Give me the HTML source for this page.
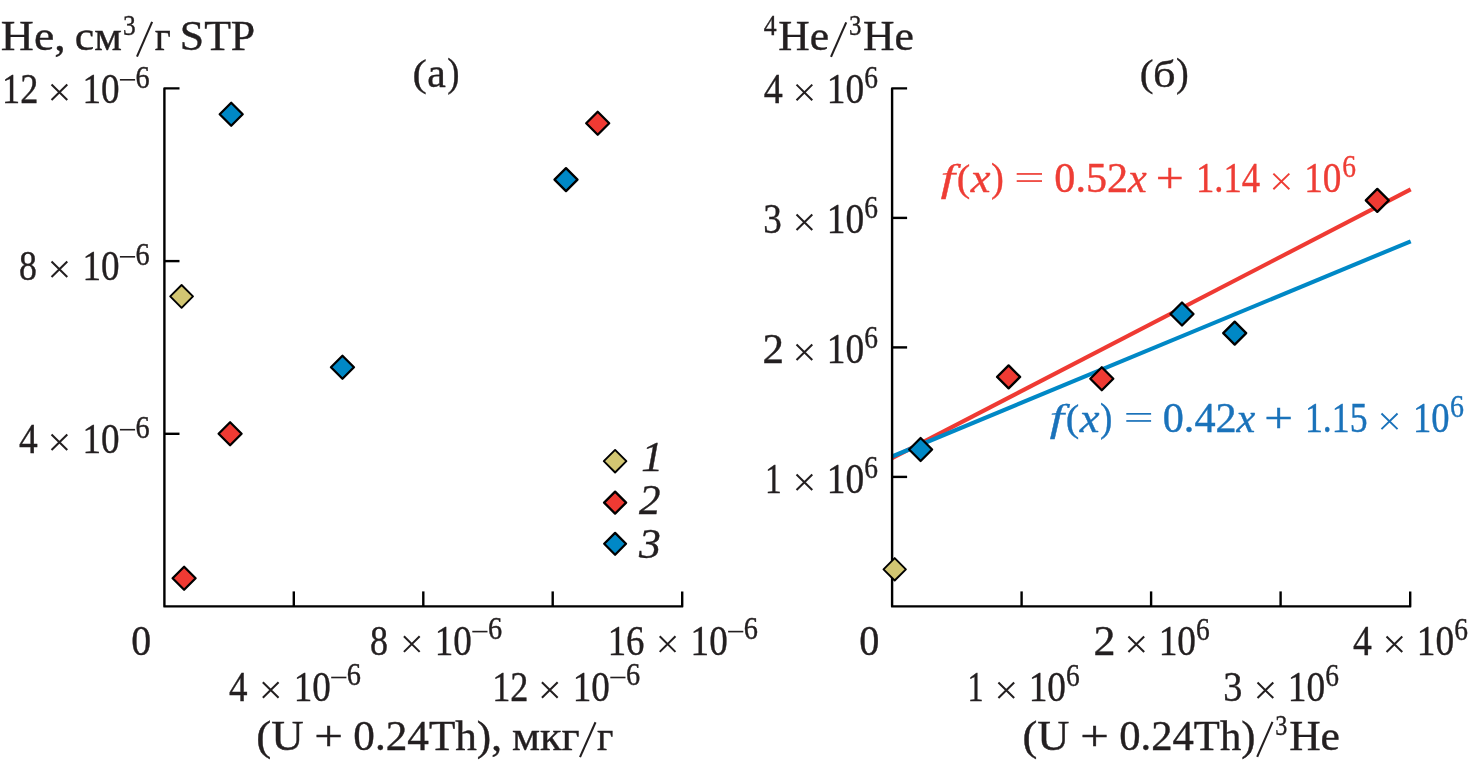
<!DOCTYPE html>
<html><head><meta charset="utf-8"><style>
html,body{margin:0;padding:0;background:#fff;width:1469px;height:763px;overflow:hidden}
svg{display:block;font-family:"Liberation Serif",serif;will-change:transform}
</style></head><body>
<svg width="1469" height="763" viewBox="0 0 1469 763">
<rect width="1469" height="763" fill="#fff"/>
<line x1="892.1" y1="458.1" x2="1410.7" y2="189.4" stroke="#ef3a33" stroke-width="4.1"/>
<line x1="892.1" y1="456.5" x2="1410.7" y2="241.3" stroke="#0088c6" stroke-width="4.1"/>
<path d="M179.5 88.4H164.4V606.4H682.2V591.4" stroke="#000" stroke-width="2.4" fill="none" stroke-linejoin="round" stroke-linecap="butt"/>
<path d="M164.4 261.1H179.5" stroke="#000" stroke-width="2.4" fill="none" stroke-linejoin="round" stroke-linecap="butt"/>
<path d="M164.4 433.8H179.5" stroke="#000" stroke-width="2.4" fill="none" stroke-linejoin="round" stroke-linecap="butt"/>
<path d="M293.8 606.4V591.4" stroke="#000" stroke-width="2.4" fill="none" stroke-linejoin="round" stroke-linecap="butt"/>
<path d="M423.3 606.4V591.4" stroke="#000" stroke-width="2.4" fill="none" stroke-linejoin="round" stroke-linecap="butt"/>
<path d="M552.7 606.4V591.4" stroke="#000" stroke-width="2.4" fill="none" stroke-linejoin="round" stroke-linecap="butt"/>
<path d="M907.1 88.4H892.1V606.4H1410.2V591.4" stroke="#000" stroke-width="2.4" fill="none" stroke-linejoin="round" stroke-linecap="butt"/>
<path d="M892.1 217.9H907.1" stroke="#000" stroke-width="2.4" fill="none" stroke-linejoin="round" stroke-linecap="butt"/>
<path d="M892.1 347.4H907.1" stroke="#000" stroke-width="2.4" fill="none" stroke-linejoin="round" stroke-linecap="butt"/>
<path d="M892.1 476.9H907.1" stroke="#000" stroke-width="2.4" fill="none" stroke-linejoin="round" stroke-linecap="butt"/>
<path d="M1021.6 606.4V591.4" stroke="#000" stroke-width="2.4" fill="none" stroke-linejoin="round" stroke-linecap="butt"/>
<path d="M1151.1 606.4V591.4" stroke="#000" stroke-width="2.4" fill="none" stroke-linejoin="round" stroke-linecap="butt"/>
<path d="M1280.6 606.4V591.4" stroke="#000" stroke-width="2.4" fill="none" stroke-linejoin="round" stroke-linecap="butt"/>
<path d="M219.70 114.30L231.20 102.80L242.70 114.30L231.20 125.80Z" fill="#0088c6" stroke="#000" stroke-width="2.3" stroke-linejoin="round"/>
<path d="M586.20 123.30L597.70 111.80L609.20 123.30L597.70 134.80Z" fill="#ef3a33" stroke="#000" stroke-width="2.3" stroke-linejoin="round"/>
<path d="M554.50 179.60L566.00 168.10L577.50 179.60L566.00 191.10Z" fill="#0088c6" stroke="#000" stroke-width="2.3" stroke-linejoin="round"/>
<path d="M170.20 296.40L181.60 285.00L193.00 296.40L181.60 307.80Z" fill="#d2c672" stroke="#000" stroke-width="1.9" stroke-linejoin="round"/>
<path d="M330.95 367.25L342.45 355.75L353.95 367.25L342.45 378.75Z" fill="#0088c6" stroke="#000" stroke-width="2.3" stroke-linejoin="round"/>
<path d="M218.60 433.80L230.10 422.30L241.60 433.80L230.10 445.30Z" fill="#ef3a33" stroke="#000" stroke-width="2.3" stroke-linejoin="round"/>
<path d="M172.60 578.30L184.10 566.80L195.60 578.30L184.10 589.80Z" fill="#ef3a33" stroke="#000" stroke-width="2.3" stroke-linejoin="round"/>
<path d="M603.80 461.20L615.10 449.90L626.40 461.20L615.10 472.50Z" fill="#d2c672" stroke="#000" stroke-width="1.9" stroke-linejoin="round"/>
<path d="M604.10 502.60L615.10 491.60L626.10 502.60L615.10 513.60Z" fill="#ef3a33" stroke="#000" stroke-width="2.3" stroke-linejoin="round"/>
<path d="M604.20 543.80L615.10 532.90L626.00 543.80L615.10 554.70Z" fill="#0088c6" stroke="#000" stroke-width="2.3" stroke-linejoin="round"/>
<path d="M1365.80 200.40L1377.30 188.90L1388.80 200.40L1377.30 211.90Z" fill="#ef3a33" stroke="#000" stroke-width="2.3" stroke-linejoin="round"/>
<path d="M1170.50 314.00L1182.00 302.50L1193.50 314.00L1182.00 325.50Z" fill="#0088c6" stroke="#000" stroke-width="2.3" stroke-linejoin="round"/>
<path d="M1223.20 333.10L1234.70 321.60L1246.20 333.10L1234.70 344.60Z" fill="#0088c6" stroke="#000" stroke-width="2.3" stroke-linejoin="round"/>
<path d="M997.10 376.90L1008.60 365.40L1020.10 376.90L1008.60 388.40Z" fill="#ef3a33" stroke="#000" stroke-width="2.3" stroke-linejoin="round"/>
<path d="M1090.30 378.80L1101.80 367.30L1113.30 378.80L1101.80 390.30Z" fill="#ef3a33" stroke="#000" stroke-width="2.3" stroke-linejoin="round"/>
<path d="M909.10 449.50L920.60 438.00L932.10 449.50L920.60 461.00Z" fill="#0088c6" stroke="#000" stroke-width="2.3" stroke-linejoin="round"/>
<path d="M883.50 569.30L894.70 558.10L905.90 569.30L894.70 580.50Z" fill="#d2c672" stroke="#000" stroke-width="1.9" stroke-linejoin="round"/>
<text x="0" y="0" font-size="42.5" fill="#231f20" stroke="#231f20" stroke-width="0.4" transform="matrix(1.0763 0 0 1.0000 0.87 49.80)">He,</text>
<text x="0" y="0" font-size="42.5" fill="#231f20" stroke="#231f20" stroke-width="0.4" transform="matrix(1.0273 0 0 1.0000 74.87 49.80)">см</text>
<text x="0" y="0" font-size="31.0" fill="#231f20" stroke="#231f20" stroke-width="0.4" transform="matrix(0.8214 0 0 0.9429 122.98 35.00)">3</text>
<text x="0" y="0" font-size="42.5" fill="#231f20" stroke="#231f20" stroke-width="0.4" transform="matrix(0.9235 0 0 1.0000 154.80 49.80)">г</text>
<text x="0" y="0" font-size="42.5" fill="#231f20" stroke="#231f20" stroke-width="0.4" transform="matrix(1.0290 0 0 1.0000 179.81 49.80)">STP</text>
<text x="0" y="0" font-size="42.5" fill="#231f20" stroke="#231f20" stroke-width="0.4" transform="matrix(1.0091 0 0 0.9077 412.48 86.13)">(</text>
<text x="0" y="0" font-size="42.5" fill="#231f20" stroke="#231f20" stroke-width="0.4" transform="matrix(0.9833 0 0 1.0000 427.22 86.90)">a</text>
<text x="0" y="0" font-size="42.5" fill="#231f20" stroke="#231f20" stroke-width="0.4" transform="matrix(0.8667 0 0 0.9316 447.33 85.92)">)</text>
<text x="0" y="0" font-size="42.5" fill="#231f20" stroke="#231f20" stroke-width="0.4" transform="matrix(0.8526 0 0 1.0000 2.04 102.80)">12</text>
<text x="0" y="0" font-size="42.5" fill="#231f20" stroke="#231f20" stroke-width="0.4" transform="matrix(0.8737 0 0 1.0000 82.38 102.80)">10</text>
<text x="0" y="0" font-size="31.0" fill="#231f20" stroke="#231f20" stroke-width="0.4" transform="matrix(0.9143 0 0 1.0000 135.49 87.60)">6</text>
<text x="0" y="0" font-size="42.5" fill="#231f20" stroke="#231f20" stroke-width="0.4" transform="matrix(0.8421 0 0 1.0000 19.06 279.80)">8</text>
<text x="0" y="0" font-size="42.5" fill="#231f20" stroke="#231f20" stroke-width="0.4" transform="matrix(0.8737 0 0 1.0000 82.38 279.80)">10</text>
<text x="0" y="0" font-size="31.0" fill="#231f20" stroke="#231f20" stroke-width="0.4" transform="matrix(0.9143 0 0 1.0000 135.49 264.60)">6</text>
<text x="0" y="0" font-size="42.5" fill="#231f20" stroke="#231f20" stroke-width="0.4" transform="matrix(0.8810 0 0 1.0000 19.10 452.70)">4</text>
<text x="0" y="0" font-size="42.5" fill="#231f20" stroke="#231f20" stroke-width="0.4" transform="matrix(0.8737 0 0 1.0000 82.38 452.70)">10</text>
<text x="0" y="0" font-size="31.0" fill="#231f20" stroke="#231f20" stroke-width="0.4" transform="matrix(0.9143 0 0 1.0000 135.49 437.50)">6</text>
<text x="0" y="0" font-size="42.5" fill="#231f20" stroke="#231f20" stroke-width="0.4" transform="matrix(0.9368 0 0 1.0000 131.26 655.20)">0</text>
<text x="0" y="0" font-size="42.5" fill="#231f20" stroke="#231f20" stroke-width="0.4" transform="matrix(0.8474 0 0 1.0000 370.05 654.60)">8</text>
<text x="0" y="0" font-size="42.5" fill="#231f20" stroke="#231f20" stroke-width="0.4" transform="matrix(0.8737 0 0 1.0000 434.78 654.60)">10</text>
<text x="0" y="0" font-size="31.0" fill="#231f20" stroke="#231f20" stroke-width="0.4" transform="matrix(0.9143 0 0 1.0000 487.89 639.40)">6</text>
<text x="0" y="0" font-size="42.5" fill="#231f20" stroke="#231f20" stroke-width="0.4" transform="matrix(0.8667 0 0 1.0000 607.70 654.60)">16</text>
<text x="0" y="0" font-size="42.5" fill="#231f20" stroke="#231f20" stroke-width="0.4" transform="matrix(0.8737 0 0 1.0000 690.58 654.60)">10</text>
<text x="0" y="0" font-size="31.0" fill="#231f20" stroke="#231f20" stroke-width="0.4" transform="matrix(0.9143 0 0 1.0000 743.69 639.40)">6</text>
<text x="0" y="0" font-size="42.5" fill="#231f20" stroke="#231f20" stroke-width="0.4" transform="matrix(0.8714 0 0 1.0000 228.90 700.50)">4</text>
<text x="0" y="0" font-size="42.5" fill="#231f20" stroke="#231f20" stroke-width="0.4" transform="matrix(0.8737 0 0 1.0000 293.68 700.50)">10</text>
<text x="0" y="0" font-size="31.0" fill="#231f20" stroke="#231f20" stroke-width="0.4" transform="matrix(0.9143 0 0 1.0000 346.79 685.30)">6</text>
<text x="0" y="0" font-size="42.5" fill="#231f20" stroke="#231f20" stroke-width="0.4" transform="matrix(0.8526 0 0 1.0000 492.14 700.50)">12</text>
<text x="0" y="0" font-size="42.5" fill="#231f20" stroke="#231f20" stroke-width="0.4" transform="matrix(0.8737 0 0 1.0000 572.78 700.50)">10</text>
<text x="0" y="0" font-size="31.0" fill="#231f20" stroke="#231f20" stroke-width="0.4" transform="matrix(0.9143 0 0 1.0000 625.89 685.30)">6</text>
<text x="0" y="0" font-size="42.5" fill="#231f20" stroke="#231f20" stroke-width="0.4" transform="matrix(1.0581 0 0 1.0000 256.18 749.70)">(U</text>
<text x="0" y="0" font-size="42.5" fill="#231f20" stroke="#231f20" stroke-width="0.4" transform="matrix(1.2000 0 0 1.0000 314.30 749.70)">+</text>
<text x="0" y="0" font-size="42.5" fill="#231f20" stroke="#231f20" stroke-width="0.4" transform="matrix(1.0168 0 0 1.0000 353.28 749.70)">0.24Th),</text>
<text x="0" y="0" font-size="42.5" fill="#231f20" stroke="#231f20" stroke-width="0.4" transform="matrix(1.0429 0 0 1.0000 511.96 749.70)">мкг</text>
<text x="0" y="0" font-size="42.5" fill="#231f20" stroke="#231f20" stroke-width="0.4" transform="matrix(0.9412 0 0 1.0000 596.90 749.70)">г</text>
<text x="0" y="0" font-size="42.5" font-style="italic" fill="#231f20" stroke="#231f20" stroke-width="0.4" transform="matrix(1.0312 0 0 0.9929 641.17 470.60)">1</text>
<text x="0" y="0" font-size="42.5" font-style="italic" fill="#231f20" stroke="#231f20" stroke-width="0.4" transform="matrix(1.0095 0 0 0.9964 639.00 513.90)">2</text>
<text x="0" y="0" font-size="42.5" font-style="italic" fill="#231f20" stroke="#231f20" stroke-width="0.4" transform="matrix(1.0250 0 0 0.9821 639.00 557.90)">3</text>
<text x="0" y="0" font-size="31.0" fill="#231f20" stroke="#231f20" stroke-width="0.4" transform="matrix(0.8312 0 0 0.9190 763.70 34.50)">4</text>
<text x="0" y="0" font-size="42.5" fill="#231f20" stroke="#231f20" stroke-width="0.4" transform="matrix(1.0250 0 0 1.0000 778.27 49.60)">He</text>
<text x="0" y="0" font-size="31.0" fill="#231f20" stroke="#231f20" stroke-width="0.4" transform="matrix(0.8000 0 0 0.9571 848.90 35.30)">3</text>
<text x="0" y="0" font-size="42.5" fill="#231f20" stroke="#231f20" stroke-width="0.4" transform="matrix(1.0271 0 0 1.0000 862.97 49.60)">He</text>
<text x="0" y="0" font-size="42.5" fill="#231f20" stroke="#231f20" stroke-width="0.4" transform="matrix(0.9727 0 0 0.8974 1139.75 85.92)">(</text>
<text x="0" y="0" font-size="42.5" fill="#231f20" stroke="#231f20" stroke-width="0.4" transform="matrix(1.0444 0 0 0.9065 1153.11 87.10)">б</text>
<text x="0" y="0" font-size="42.5" fill="#231f20" stroke="#231f20" stroke-width="0.4" transform="matrix(0.9000 0 0 0.9211 1176.00 85.71)">)</text>
<text x="0" y="0" font-size="42.5" fill="#231f20" stroke="#231f20" stroke-width="0.4" transform="matrix(0.8952 0 0 1.0000 763.80 102.90)">4</text>
<text x="0" y="0" font-size="42.5" fill="#231f20" stroke="#231f20" stroke-width="0.4" transform="matrix(0.8789 0 0 1.0000 826.76 102.90)">10</text>
<text x="0" y="0" font-size="31.0" fill="#231f20" stroke="#231f20" stroke-width="0.4" transform="matrix(0.8857 0 0 1.0000 864.21 87.70)">6</text>
<text x="0" y="0" font-size="42.5" fill="#231f20" stroke="#231f20" stroke-width="0.4" transform="matrix(0.8722 0 0 1.0000 763.26 232.70)">3</text>
<text x="0" y="0" font-size="42.5" fill="#231f20" stroke="#231f20" stroke-width="0.4" transform="matrix(0.8789 0 0 1.0000 826.76 232.70)">10</text>
<text x="0" y="0" font-size="31.0" fill="#231f20" stroke="#231f20" stroke-width="0.4" transform="matrix(0.8857 0 0 1.0000 864.21 217.50)">6</text>
<text x="0" y="0" font-size="42.5" fill="#231f20" stroke="#231f20" stroke-width="0.4" transform="matrix(1.0118 0 0 1.0000 762.48 362.70)">2</text>
<text x="0" y="0" font-size="42.5" fill="#231f20" stroke="#231f20" stroke-width="0.4" transform="matrix(0.8789 0 0 1.0000 826.76 362.70)">10</text>
<text x="0" y="0" font-size="31.0" fill="#231f20" stroke="#231f20" stroke-width="0.4" transform="matrix(0.8857 0 0 1.0000 864.21 347.50)">6</text>
<text x="0" y="0" font-size="42.5" fill="#231f20" stroke="#231f20" stroke-width="0.4" transform="matrix(0.7875 0 0 1.0000 765.04 492.70)">1</text>
<text x="0" y="0" font-size="42.5" fill="#231f20" stroke="#231f20" stroke-width="0.4" transform="matrix(0.8789 0 0 1.0000 826.76 492.70)">10</text>
<text x="0" y="0" font-size="31.0" fill="#231f20" stroke="#231f20" stroke-width="0.4" transform="matrix(0.8857 0 0 1.0000 864.21 477.50)">6</text>
<text x="0" y="0" font-size="42.5" fill="#231f20" stroke="#231f20" stroke-width="0.4" transform="matrix(0.9474 0 0 1.0000 859.25 655.20)">0</text>
<text x="0" y="0" font-size="42.5" fill="#231f20" stroke="#231f20" stroke-width="0.4" transform="matrix(1.0353 0 0 1.0000 1093.43 654.80)">2</text>
<text x="0" y="0" font-size="42.5" fill="#231f20" stroke="#231f20" stroke-width="0.4" transform="matrix(0.8789 0 0 1.0000 1158.66 654.80)">10</text>
<text x="0" y="0" font-size="31.0" fill="#231f20" stroke="#231f20" stroke-width="0.4" transform="matrix(0.8857 0 0 1.0000 1196.11 639.60)">6</text>
<text x="0" y="0" font-size="42.5" fill="#231f20" stroke="#231f20" stroke-width="0.4" transform="matrix(0.8857 0 0 1.0000 1353.00 654.80)">4</text>
<text x="0" y="0" font-size="42.5" fill="#231f20" stroke="#231f20" stroke-width="0.4" transform="matrix(0.8789 0 0 1.0000 1416.76 654.80)">10</text>
<text x="0" y="0" font-size="31.0" fill="#231f20" stroke="#231f20" stroke-width="0.4" transform="matrix(0.8857 0 0 1.0000 1454.21 639.60)">6</text>
<text x="0" y="0" font-size="42.5" fill="#231f20" stroke="#231f20" stroke-width="0.4" transform="matrix(0.7563 0 0 1.0000 967.53 700.80)">1</text>
<text x="0" y="0" font-size="42.5" fill="#231f20" stroke="#231f20" stroke-width="0.4" transform="matrix(0.8789 0 0 1.0000 1028.66 700.80)">10</text>
<text x="0" y="0" font-size="31.0" fill="#231f20" stroke="#231f20" stroke-width="0.4" transform="matrix(0.8857 0 0 1.0000 1066.11 685.60)">6</text>
<text x="0" y="0" font-size="42.5" fill="#231f20" stroke="#231f20" stroke-width="0.4" transform="matrix(0.9000 0 0 1.0000 1223.20 700.80)">3</text>
<text x="0" y="0" font-size="42.5" fill="#231f20" stroke="#231f20" stroke-width="0.4" transform="matrix(0.8789 0 0 1.0000 1287.76 700.80)">10</text>
<text x="0" y="0" font-size="31.0" fill="#231f20" stroke="#231f20" stroke-width="0.4" transform="matrix(0.8857 0 0 1.0000 1325.21 685.60)">6</text>
<text x="0" y="0" font-size="42.5" fill="#231f20" stroke="#231f20" stroke-width="0.4" transform="matrix(1.0465 0 0 1.0000 1022.51 749.70)">(U</text>
<text x="0" y="0" font-size="42.5" fill="#231f20" stroke="#231f20" stroke-width="0.4" transform="matrix(1.1950 0 0 1.0000 1080.31 749.70)">+</text>
<text x="0" y="0" font-size="42.5" fill="#231f20" stroke="#231f20" stroke-width="0.4" transform="matrix(1.0030 0 0 1.0000 1119.30 749.70)">0.24Th)</text>
<text x="0" y="0" font-size="31.0" fill="#231f20" stroke="#231f20" stroke-width="0.4" transform="matrix(0.7786 0 0 0.9190 1275.32 734.60)">3</text>
<text x="0" y="0" font-size="42.5" fill="#231f20" stroke="#231f20" stroke-width="0.4" transform="matrix(1.0250 0 0 1.0000 1289.17 749.70)">He</text>
<text x="0" y="0" font-size="42.5" font-style="italic" fill="#ee3d35" stroke="#ee3d35" stroke-width="0.4" transform="matrix(1.2059 0 0 0.9103 940.70 191.41)">f</text>
<text x="0" y="0" font-size="42.5" fill="#ee3d35" stroke="#ee3d35" stroke-width="0.4" transform="matrix(0.9545 0 0 0.9051 956.69 191.25)">(</text>
<text x="0" y="0" font-size="42.5" font-style="italic" fill="#ee3d35" stroke="#ee3d35" stroke-width="0.4" transform="matrix(1.0450 0 0 1.0105 970.64 192.10)">x</text>
<text x="0" y="0" font-size="42.5" fill="#ee3d35" stroke="#ee3d35" stroke-width="0.4" transform="matrix(0.9083 0 0 0.9289 991.09 191.04)">)</text>
<text x="0" y="0" font-size="42.5" fill="#ee3d35" stroke="#ee3d35" stroke-width="0.4" transform="matrix(0.9924 0 0 1.0000 1054.31 191.90)">0.52<tspan font-style="italic">x</tspan></text>
<text x="0" y="0" font-size="42.5" fill="#ee3d35" stroke="#ee3d35" stroke-width="0.4" transform="matrix(1.1700 0 0 1.0000 1155.66 191.90)">+</text>
<text x="0" y="0" font-size="42.5" fill="#ee3d35" stroke="#ee3d35" stroke-width="0.4" transform="matrix(0.8634 0 0 1.0000 1196.01 191.90)">1.14</text>
<text x="0" y="0" font-size="42.5" fill="#ee3d35" stroke="#ee3d35" stroke-width="0.4" transform="matrix(0.8763 0 0 1.0000 1304.17 191.90)">10</text>
<text x="0" y="0" font-size="31.0" fill="#ee3d35" stroke="#ee3d35" stroke-width="0.4" transform="matrix(0.8857 0 0 1.0000 1342.21 176.70)">6</text>
<text x="0" y="0" font-size="42.5" font-style="italic" fill="#1a72ba" stroke="#1a72ba" stroke-width="0.4" transform="matrix(1.2059 0 0 0.9103 1049.70 431.31)">f</text>
<text x="0" y="0" font-size="42.5" fill="#1a72ba" stroke="#1a72ba" stroke-width="0.4" transform="matrix(0.9545 0 0 0.9051 1065.69 431.15)">(</text>
<text x="0" y="0" font-size="42.5" font-style="italic" fill="#1a72ba" stroke="#1a72ba" stroke-width="0.4" transform="matrix(1.0450 0 0 1.0105 1079.64 432.00)">x</text>
<text x="0" y="0" font-size="42.5" fill="#1a72ba" stroke="#1a72ba" stroke-width="0.4" transform="matrix(0.8750 0 0 0.9289 1100.12 430.94)">)</text>
<text x="0" y="0" font-size="42.5" fill="#1a72ba" stroke="#1a72ba" stroke-width="0.4" transform="matrix(0.9935 0 0 1.0000 1162.71 431.80)">0.42<tspan font-style="italic">x</tspan></text>
<text x="0" y="0" font-size="42.5" fill="#1a72ba" stroke="#1a72ba" stroke-width="0.4" transform="matrix(1.2000 0 0 1.0000 1264.20 431.80)">+</text>
<text x="0" y="0" font-size="42.5" fill="#1a72ba" stroke="#1a72ba" stroke-width="0.4" transform="matrix(0.8414 0 0 1.0000 1304.98 431.80)">1.15</text>
<text x="0" y="0" font-size="42.5" fill="#1a72ba" stroke="#1a72ba" stroke-width="0.4" transform="matrix(0.8605 0 0 1.0000 1413.02 431.80)">10</text>
<text x="0" y="0" font-size="31.0" fill="#1a72ba" stroke="#1a72ba" stroke-width="0.4" transform="matrix(0.9000 0 0 1.0000 1450.00 416.60)">6</text>
<line x1="137.0" y1="56.7" x2="152.1" y2="21.9" stroke="#231f20" stroke-width="2.1"/>
<path d="M51.52 84.52L67.28 100.08M51.52 100.08L67.28 84.52" stroke="#231f20" stroke-width="2.05" fill="none"/>
<rect x="119.90" y="79.00" width="15.20" height="1.6" fill="#231f20"/>
<path d="M51.52 261.52L67.28 277.08M51.52 277.08L67.28 261.52" stroke="#231f20" stroke-width="2.05" fill="none"/>
<rect x="119.90" y="256.00" width="15.20" height="1.6" fill="#231f20"/>
<path d="M51.52 434.42L67.28 449.98M51.52 449.98L67.28 434.42" stroke="#231f20" stroke-width="2.05" fill="none"/>
<rect x="119.90" y="428.90" width="15.20" height="1.6" fill="#231f20"/>
<path d="M403.92 636.32L419.68 651.88M403.92 651.88L419.68 636.32" stroke="#231f20" stroke-width="2.05" fill="none"/>
<rect x="472.30" y="630.80" width="15.20" height="1.6" fill="#231f20"/>
<path d="M659.72 636.32L675.48 651.88M659.72 651.88L675.48 636.32" stroke="#231f20" stroke-width="2.05" fill="none"/>
<rect x="728.10" y="630.80" width="15.20" height="1.6" fill="#231f20"/>
<path d="M262.82 682.22L278.58 697.78M262.82 697.78L278.58 682.22" stroke="#231f20" stroke-width="2.05" fill="none"/>
<rect x="331.20" y="676.70" width="15.20" height="1.6" fill="#231f20"/>
<path d="M541.92 682.22L557.68 697.78M541.92 697.78L557.68 682.22" stroke="#231f20" stroke-width="2.05" fill="none"/>
<rect x="610.30" y="676.70" width="15.20" height="1.6" fill="#231f20"/>
<line x1="580.0" y1="757.1" x2="595.5" y2="722.3" stroke="#231f20" stroke-width="2.1"/>
<line x1="831.0" y1="56.8" x2="846.2" y2="22.4" stroke="#231f20" stroke-width="2.1"/>
<path d="M796.52 84.62L812.28 100.18M796.52 100.18L812.28 84.62" stroke="#231f20" stroke-width="2.05" fill="none"/>
<path d="M796.52 214.42L812.28 229.98M796.52 229.98L812.28 214.42" stroke="#231f20" stroke-width="2.05" fill="none"/>
<path d="M796.52 344.42L812.28 359.98M796.52 359.98L812.28 344.42" stroke="#231f20" stroke-width="2.05" fill="none"/>
<path d="M796.52 474.42L812.28 489.98M796.52 489.98L812.28 474.42" stroke="#231f20" stroke-width="2.05" fill="none"/>
<path d="M1128.42 636.52L1144.18 652.08M1128.42 652.08L1144.18 636.52" stroke="#231f20" stroke-width="2.05" fill="none"/>
<path d="M1386.52 636.52L1402.28 652.08M1386.52 652.08L1402.28 636.52" stroke="#231f20" stroke-width="2.05" fill="none"/>
<path d="M998.42 682.52L1014.18 698.08M998.42 698.08L1014.18 682.52" stroke="#231f20" stroke-width="2.05" fill="none"/>
<path d="M1257.52 682.52L1273.28 698.08M1257.52 698.08L1273.28 682.52" stroke="#231f20" stroke-width="2.05" fill="none"/>
<line x1="1257.2" y1="756.8" x2="1272.5" y2="721.8" stroke="#231f20" stroke-width="2.1"/>
<rect x="1016.70" y="173.10" width="25.30" height="1.7" fill="#ee3d35"/>
<rect x="1016.70" y="180.20" width="25.30" height="1.7" fill="#ee3d35"/>
<path d="M1273.37 173.56L1289.34 189.24M1273.37 189.24L1289.34 173.56" stroke="#ee3d35" stroke-width="1.9" fill="none"/>
<rect x="1126.30" y="413.00" width="24.80" height="1.7" fill="#1a72ba"/>
<rect x="1126.30" y="420.10" width="24.80" height="1.7" fill="#1a72ba"/>
<path d="M1381.46 413.47L1397.54 429.13M1381.46 429.13L1397.54 413.47" stroke="#1a72ba" stroke-width="1.9" fill="none"/>
</svg>
</body></html>
